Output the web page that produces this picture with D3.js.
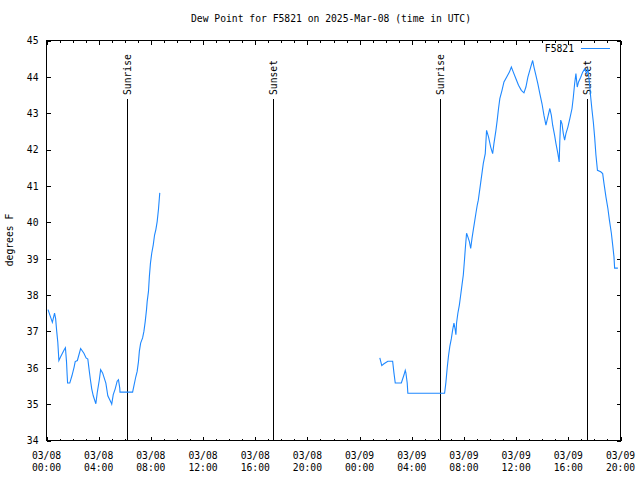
<!DOCTYPE html>
<html><head><meta charset="utf-8">
<script src="https://cdn.jsdelivr.net/npm/d3@7"></script>
<style>
body{margin:0;background:#fff;}
text{font-family:"DejaVu Sans Mono","Liberation Mono",monospace;font-size:9.7px;fill:#000;}
</style></head>
<body>
<svg id="chart" width="640" height="480"></svg>
<script>
const title = "Dew Point for F5821 on 2025-Mar-08 (time in UTC)";
const seriesName = "F5821";
const yLabel = "degrees F";
const yTicks = [34,35,36,37,38,39,40,41,42,43,44,45];
const xDomain = ["2025-03-08 00:00","2025-03-09 20:00"];

const seg1Times = ["00:07","00:27","00:37","00:42","00:47","00:52","00:57","01:05","01:22","01:27","01:32","01:35","01:37","01:47","01:57","02:07","02:12","02:22","02:37","02:52","03:02","03:10","03:17","03:22","03:28","03:35","03:47","03:53","04:03","04:09","04:18","04:33","04:42","04:58","05:00","05:07","05:16","05:25","05:31","05:37","05:38","06:36","06:42","06:51","06:57","07:03","07:07","07:13","07:22","07:28","07:34","07:40","07:43","07:49","07:53","07:58","08:04","08:11","08:17","08:23","08:29","08:35","08:39","08:41"].map(t=>"2025-03-08 "+t);
const seg1Values = [37.6,37.25,37.5,37.35,37.0,36.7,36.2,36.3,36.5,36.55,36.17,35.8,35.58,35.58,35.78,36.02,36.17,36.2,36.53,36.4,36.27,36.24,35.9,35.67,35.42,35.23,35.01,35.3,35.67,35.95,35.86,35.58,35.23,35.03,35.0,35.26,35.42,35.63,35.67,35.44,35.33,35.33,35.5,35.76,35.9,36.17,36.45,36.68,36.82,37.0,37.27,37.6,37.82,38.1,38.5,38.87,39.15,39.38,39.65,39.8,40.02,40.36,40.66,40.81];

const seg2Times = ["01:33","01:42","01:52","02:10","02:32","02:38","02:44","03:12","03:24","03:30","03:33","03:39","03:42","06:31","06:37","06:43","06:49","06:55","07:02","07:08","07:14","07:20","07:23","07:26","07:32","07:39","07:45","07:51","07:57","08:00","08:03","08:06","08:12","08:18","08:25","08:31","08:37","08:43","08:49","08:55","09:01","09:06","09:17","09:29","09:38","09:44","09:53","10:03","10:12","10:18","10:27","10:33","10:39","10:45","10:55","11:04","11:16","11:29","11:38","11:47","11:59","12:11","12:24","12:36","12:45","12:54","13:07","13:16","13:22","13:31","13:40","13:49","13:59","14:08","14:17","14:26","14:35","14:42","14:48","14:57","15:03","15:12","15:18","15:21","15:25","15:31","15:37","15:43","15:49","15:58","16:07","16:17","16:23","16:29","16:35","16:41","16:47","16:57","17:06","17:15","17:24","17:30","17:36","17:43","17:49","17:55","18:01","18:07","18:14","18:29","18:38","18:44","18:53","19:02","19:09","19:18","19:24","19:30","19:33","19:48"].map(t=>"2025-03-09 "+t);
const seg2Values = [36.27,36.06,36.11,36.18,36.18,35.86,35.58,35.58,35.8,35.93,35.86,35.58,35.3,35.3,35.6,36.0,36.33,36.59,36.8,37.04,37.23,37.04,36.91,37.23,37.5,37.73,38.0,38.28,38.55,38.78,39.01,39.26,39.7,39.6,39.47,39.28,39.56,39.79,40.02,40.25,40.47,40.61,41.09,41.62,41.89,42.53,42.35,42.07,41.89,42.17,42.53,42.81,43.13,43.4,43.63,43.86,43.99,44.13,44.27,44.13,43.95,43.77,43.63,43.56,43.72,43.99,44.27,44.45,44.27,44.04,43.81,43.54,43.26,42.94,42.67,42.9,43.13,42.94,42.67,42.39,42.17,41.89,41.66,42.26,42.81,42.71,42.44,42.26,42.44,42.62,42.85,43.13,43.44,43.81,44.09,43.72,43.86,43.99,44.13,44.22,44.09,44.22,43.9,43.44,43.08,42.76,42.35,41.85,41.43,41.39,41.34,41.07,40.7,40.38,40.06,39.7,39.38,39.05,38.74,38.74];

const sunLabels = ["Sunrise","Sunset","Sunrise","Sunset"];
const sunTimes = ["2025-03-08 06:09","2025-03-08 17:24","2025-03-09 06:10","2025-03-09 17:27"];

const parse = d3.utcParse("%Y-%m-%d %H:%M");
const svg = d3.select("#chart");
const L = 46.5, R = 620.5, T = 40.5, B = 440.5;
const x = d3.scaleUtc().domain(xDomain.map(parse)).range([L, R]);
const y = d3.scaleLinear().domain([34, 45]).range([B, T]);
const color = "#1e88ff";

// title
svg.append("text").attr("x", 331).attr("y", 22).attr("text-anchor", "middle").text(title);
// y label
svg.append("text").attr("transform", "translate(13,240) rotate(-90)").attr("text-anchor", "middle").text(yLabel);

// frame
svg.append("rect").attr("x", L).attr("y", T).attr("width", R - L).attr("height", B - T)
  .attr("fill", "none").attr("stroke", "#000").attr("shape-rendering", "crispEdges");

// y axes (left with labels, right mirror)
const yAxisL = d3.axisLeft(y).tickValues(yTicks).tickSize(-4).tickPadding(8).tickFormat(d3.format("d"));
const gyl = svg.append("g").attr("transform", `translate(${L},0)`).call(yAxisL);
const yAxisR = d3.axisRight(y).tickValues(yTicks).tickSize(-4).tickFormat("");
const gyr = svg.append("g").attr("transform", `translate(${R},0)`).call(yAxisR);

// x axes
const majorTicks = d3.utcHour.every(4).range(x.domain()[0], new Date(+x.domain()[1] + 1));
const minorTicks = d3.utcHour.every(1).range(x.domain()[0], new Date(+x.domain()[1] + 1));
const fmtD = d3.utcFormat("%m/%d"), fmtT = d3.utcFormat("%H:%M");
const gxMinB = svg.append("g").attr("transform", `translate(0,${B})`)
  .call(d3.axisBottom(x).tickValues(minorTicks).tickSize(-2).tickFormat(""));
const gxMinT = svg.append("g").attr("transform", `translate(0,${T})`)
  .call(d3.axisTop(x).tickValues(minorTicks).tickSize(-2).tickFormat(""));
const gxB = svg.append("g").attr("transform", `translate(0,${B})`)
  .call(d3.axisBottom(x).tickValues(majorTicks).tickSize(-4).tickFormat(""));
const gxT = svg.append("g").attr("transform", `translate(0,${T})`)
  .call(d3.axisTop(x).tickValues(majorTicks).tickSize(-4).tickFormat(""));

[gyl, gyr, gxMinB, gxMinT, gxB, gxT].forEach(g => {
  g.select(".domain").remove();
  g.selectAll("line").attr("stroke", "#000").attr("shape-rendering", "crispEdges");
  g.selectAll("text").attr("font-family", null).attr("font-size", null).style("fill", "#000");
});
gyl.selectAll("text").attr("dy", "0.35em");

// two-line x labels
const xl = svg.append("g");
majorTicks.forEach(d => {
  xl.append("text").attr("x", x(d)).attr("y", 459).attr("text-anchor", "middle").text(fmtD(d));
  xl.append("text").attr("x", x(d)).attr("y", 471).attr("text-anchor", "middle").text(fmtT(d));
});

// sunrise / sunset markers
sunTimes.forEach((t, i) => {
  const xx = Math.round(x(parse(t))) + 0.5;
  svg.append("line").attr("x1", xx).attr("x2", xx).attr("y1", 99).attr("y2", B)
    .attr("stroke", "#000").attr("shape-rendering", "crispEdges");
  svg.append("text").attr("transform", `translate(${xx + 3.5},95) rotate(-90)`)
    .attr("text-anchor", "start").text(sunLabels[i]);
});

// data lines
const line = d3.line().x(d => x(d.t)).y(d => y(d.v));
const seg1 = seg1Times.map((t, i) => ({ t: parse(t), v: seg1Values[i] }));
const seg2 = seg2Times.map((t, i) => ({ t: parse(t), v: seg2Values[i] }));
[seg1, seg2].forEach(s => {
  svg.append("path").datum(s).attr("d", line).attr("fill", "none")
    .attr("stroke", color).attr("stroke-width", 1.1);
});

// legend
svg.append("text").attr("x", 574).attr("y", 52).attr("text-anchor", "end").text(seriesName);
svg.append("line").attr("x1", 581).attr("x2", 610).attr("y1", 48.5).attr("y2", 48.5)
  .attr("stroke", color).attr("shape-rendering", "crispEdges");
</script>
</body></html>
